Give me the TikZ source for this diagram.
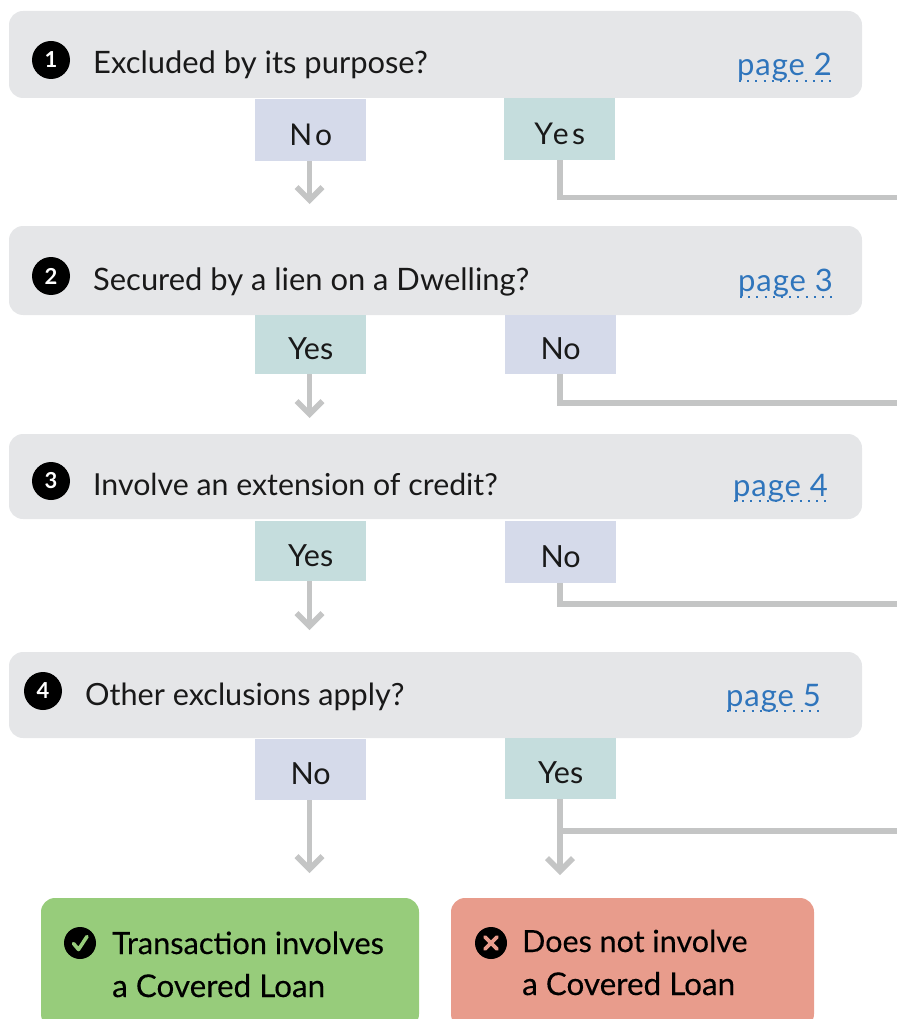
\documentclass[tikz,border=0pt]{standalone}
\usepackage{fontspec}
\setmainfont{Lato}
\newfontfamily\spaced[LetterSpace=11]{Lato}
\newfontfamily\linkfont[LetterSpace=3]{Lato}
\newfontfamily\medfont[FakeBold=0.25]{Lato}
\usetikzlibrary{arrows.meta}
\definecolor{qgrey}{HTML}{E5E6E8}
\definecolor{nobox}{HTML}{D5DAEA}
\definecolor{yesbox}{HTML}{C5DDDD}
\definecolor{conn}{HTML}{C4C5C5}
\definecolor{linkblue}{HTML}{2F75BC}
\definecolor{okgreen}{HTML}{97CC7B}
\definecolor{badred}{HTML}{E89C8C}
\tikzset{
  qbox/.style={fill=qgrey,rounded corners=14pt},
  ansbox/.style={anchor=north west,inner sep=0pt,minimum width=111pt,text height=31pt,text depth=1pt,font=\fontsize{30.5}{30}\selectfont,text=black!90},
  nob/.style={ansbox,fill=nobox},
  yesb/.style={ansbox,fill=yesbox},
  qtext/.style={anchor=base west,inner sep=0pt,font=\fontsize{30.9}{31}\selectfont,text=black!90},
  linktext/.style={anchor=base east,inner sep=0pt,font=\linkfont\fontsize{31}{31}\selectfont,text=linkblue},
  linkline/.style={draw=linkblue,line width=2pt,dash pattern=on 2pt off 6.2pt},
  numdot/.style={circle,fill=black,minimum size=38pt,inner sep=0pt,text=white,font=\bfseries\fontsize{22}{22}\selectfont},
  arrowline/.style={draw=conn,line width=5.5pt,-{Straight Barb[length=13pt,width=26pt,line width=5.5pt]}},
  branch/.style={draw=conn,line width=5.5pt},
  outtext/.style={anchor=base west,inner sep=0pt,font=\medfont\fontsize{30.7}{31}\selectfont,text=black},
  iconmark/.style={draw=#1,line width=3.6pt,line cap=round,line join=round},
}
\begin{document}
\begin{tikzpicture}[x=1pt,y=-1pt]
\useasboundingbox (0,0) rectangle (897,1019);
\clip (0,0) rectangle (897,1019);
% question bars
\fill[qbox] (9,11) rectangle (862,98);
\fill[qbox] (9,226) rectangle (862,315);
\fill[qbox] (9,434) rectangle (862,519);
\fill[qbox] (9,652) rectangle (862,738);
% numbers
\node[numdot] (n1) at (51,60) {1};
\node[numdot] (n2) at (51,276) {2};
\node[numdot] (n3) at (51,481) {3};
\node[numdot] (n4) at (43,691) {4};
% questions
\node[qtext] (t1) at (93,74) {Excluded by its purpose?};
\node[qtext] (t2) at (93,290) {Secured by a lien on a Dwelling?};
\node[qtext,font=\fontsize{30.3}{31}\selectfont] (t3) at (93,495) {Involve an extension of credit?};
\node[qtext,font=\fontsize{30.6}{31}\selectfont] (t4) at (85,705) {Other exclusions apply?};
% page links
\node[linktext] (p1) at (832,75.5) {page 2};
\node[linktext] (p2) at (833,291.5) {page 3};
\node[linktext] (p3) at (828,496.5) {page 4};
\node[linktext] (p4) at (821,706.5) {page 5};
\coordinate (u1a) at (739,81); \coordinate (u1b) at (833,81);
\coordinate (u2a) at (740,297); \coordinate (u2b) at (834,297);
\coordinate (u3a) at (734,501); \coordinate (u3b) at (829,501);
\coordinate (u4a) at (727,711); \coordinate (u4b) at (822,711);
\draw[linkline] (u1a) -- (u1b);
\draw[linkline] (u2a) -- (u2b);
\draw[linkline] (u3a) -- (u3b);
\draw[linkline] (u4a) -- (u4b);
% answers
\node[nob,minimum height=62pt,font=\spaced\fontsize{30}{30}\selectfont] (a1) at (255,99) {No};
\node[yesb,minimum height=62pt,font=\spaced\fontsize{30}{30}\selectfont] (b1) at (504,98) {Yes};
\node[yesb,minimum height=59pt] (a2) at (255,315) {Yes};
\node[nob,minimum height=59pt] (b2) at (505,315) {No};
\node[yesb,minimum height=60pt] (a3) at (255,521) {Yes};
\node[nob,minimum height=62pt] (b3) at (505,521) {No};
\node[nob,minimum height=61pt] (a4) at (255,739) {No};
\node[yesb,minimum height=61pt] (b4) at (505,738) {Yes};
% outcome boxes
\fill[okgreen,rounded corners=14pt] (41,898) rectangle (419,1028);
\fill[badred,rounded corners=14pt] (451,898) rectangle (814,1028);
\coordinate (end1) at (309.5,204);
\coordinate (end2) at (309.5,418);
\coordinate (end3) at (309.5,630);
\coordinate (end4) at (309.5,873);
\coordinate (end5) at (560,875);
\draw[arrowline] (a1.south -| end1) -- (end1);
\draw[arrowline] (a2.south -| end2) -- (end2);
\draw[arrowline] (a3.south -| end3) -- (end3);
\draw[arrowline] (a4.south -| end4) -- (end4);
\draw[arrowline] (b4.south -| end5) -- (end5);
% branches leaving to the right
\coordinate (c1) at (560,200); \coordinate (s1) at (563,197.5); \coordinate (x1) at (897,197.5);
\coordinate (x2) at (897,403);
\coordinate (x3) at (897,604);
\coordinate (s4) at (563,831); \coordinate (x4) at (897,831);
\draw[branch] (b1.south -| c1) -- (c1);
\draw[branch] (s1) -- (x1);
\draw[branch] (b2.south -| c1) |- (x2);
\draw[branch] (b3.south -| c1) |- (x3);
\draw[branch] (s4) -- (x4);
% outcomes
\fill[black] (80,943) circle (16);
\draw[iconmark=okgreen] (73.5,943.5) -- (78.5,949.5) -- (87,936.5);
\fill[black] (491,943) circle (16);
\draw[iconmark=badred] (485,937) -- (497,949) (497,937) -- (485,949);
\node[outtext] (o1) at (112,954) {Transaction involves};
\node[outtext,font=\medfont\fontsize{31.4}{31}\selectfont] (o2) at (112,997) {a Covered Loan};
\node[outtext,font=\medfont\fontsize{30.5}{31}\selectfont] (o3) at (522,952) {Does not involve};
\node[outtext,font=\medfont\fontsize{31.4}{31}\selectfont] (o4) at (522,995) {a Covered Loan};
\end{tikzpicture}
\end{document}
